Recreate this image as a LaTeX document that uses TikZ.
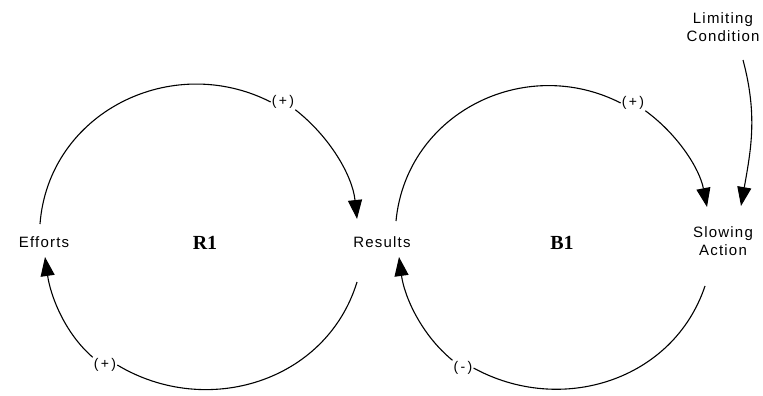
\documentclass[tikz,border=0pt]{standalone}
\usepackage{fontspec}
\setmainfont{Liberation Sans}[LetterSpace=8]
\newfontfamily\loopfont{Liberation Serif}
\usetikzlibrary{arrows.meta}
\begin{document}
\begin{tikzpicture}[x=1pt,y=-1pt,
  lbl/.style={font=\fontsize{15}{17}\selectfont, inner sep=1pt},
  loopname/.style={font=\loopfont\bfseries\fontsize{20}{22}\selectfont},
  pol/.style={font=\fontsize{14}{16}\selectfont, inner sep=1pt},
  link/.style={line width=1.1pt},
  arr/.style={link, -{Triangle[length=19pt,width=14pt]}}]
\useasboundingbox (0,0) rectangle (763,396);
% nodes
\node[lbl] (eff) at (44,242) {Efforts};
\node[lbl] (res) at (382,242) {Results};
\node[lbl, align=center] (slow) at (723,241) {Slowing\\[1pt]Action};
\node[lbl, align=center] (lim) at (723,27) {Limiting\\[1pt]Condition};
\node[loopname] (r1) at (205,243) {R1};
\node[loopname] (b1) at (562,243) {B1};
\node[pol] (p1) at (283,102) {(\,+\,)};
\node[pol] (p2) at (633,103) {(\,+\,)};
\node[pol] (p3) at (105,365) {(\,+\,)};
\node[pol] (p4) at (463,368) {(\,-\,)};
% coordinates
\coordinate (e1) at (40,224);
\coordinate (e2) at (45,257);
\coordinate (r1t) at (357,219);
\coordinate (r2t) at (396,221);
\coordinate (r3b) at (357,282);
\coordinate (r4b) at (399,257);
\coordinate (s1t) at (707,207);
\coordinate (s2t) at (741,206);
\coordinate (s3b) at (705,286);
\coordinate (l1) at (743,60);
% R1 loop
\draw[link] (e1) to[out=85.6,in=153,looseness=1.095] (p1.west);
\draw[arr] (p1.south east) to[out=-38,in=96,looseness=0.89] (r1t);
\draw[link] (r3b) to[out=-107,in=-31,looseness=1.05] (p3.east);
\draw[arr] (p3.north west) to[out=139,in=-82,looseness=0.88] (e2);
% B1 loop
\draw[link] (r2t) to[out=84.5,in=153,looseness=1.09] (p2.west);
\draw[arr] (p2.south east) to[out=-36,in=101,looseness=0.885] (s1t);
\draw[link] (s3b) to[out=-108.5,in=-28.7,looseness=1.04] (p4.east);
\draw[arr] (p4.north west) to[out=140.7,in=-82.3,looseness=0.885] (r4b);
% limiting condition
\draw[arr] (l1) to[out=-75,in=80] (s2t);
\end{tikzpicture}
\end{document}
